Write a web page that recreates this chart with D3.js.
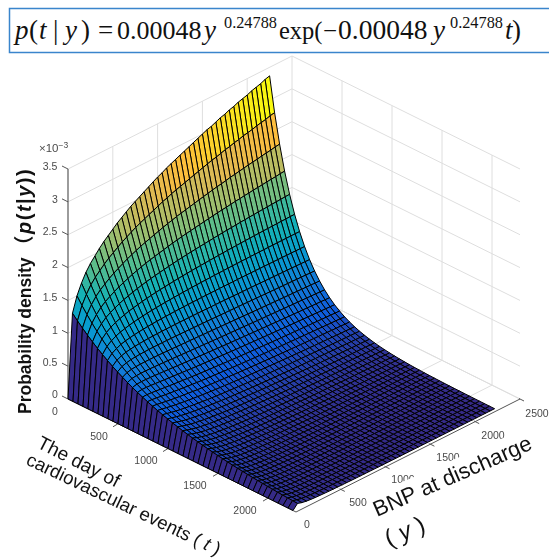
<!DOCTYPE html>
<html><head><meta charset="utf-8">
<script src="https://cdnjs.cloudflare.com/ajax/libs/d3/7.8.5/d3.min.js"></script>
<style>html,body{margin:0;padding:0;background:#fff;overflow:hidden}svg{display:block;filter:blur(.5px)}</style>
</head><body><svg id="c" width="549" height="560"></svg>
<script>
// Grid of the plotted surface
const tValues=[0,50,100,150,200,250,300,350,400,450,500,550,600,650,700,750,800,850,900,950,1000,1050,1100,1150,1200,1250,1300,1350,1400,1450,1500,1550,1600,1650,1700,1750,1800,1850,1900,1950,2000,2050,2100,2150,2200,2250];
const yValues=[0,50,100,150,200,250,300,350,400,450,500,550,600,650,700,750,800,850,900,950,1000,1050,1100,1150,1200,1250,1300,1350,1400,1450,1500,1550,1600,1650,1700,1750,1800,1850,1900,1950,2000,2050,2100,2150,2200,2250];
const edgeDensity=[0,1.27,1.50,1.66,1.79,1.89,1.97,2.05,2.12,2.18,2.24,2.30,2.35,2.40,2.45,2.49,2.53,2.57,2.61,2.65,2.69,2.72,2.76,2.79,2.82,2.85,2.88,2.91,2.94,2.97,3.00,3.03,3.05,3.08,3.11,3.13,3.16,3.18,3.21,3.23,3.25,3.28,3.30,3.32,3.35,3.37];
const zTicks=[0,0.5,1,1.5,2,2.5,3,3.5];
const tTicks=[500,1000,1500,2000];
const yTicks=[0,500,1000,1500,2000,2500];
const zLabels=["0","0.5","1","1.5","2","2.5","3","3.5"];
const parula=["#352a87","#0f5cdd","#127dd8","#079ccf","#15b1b4","#59bd8c","#a5be6b","#e1b952","#fdbe3d","#fcce2e","#f9fb0e"];
const parulaAt=[0,7,14,21,28,35,42,49,53,56,63];
const tMax=2280,yMax=2500,zMax=3.5;

// Oblique projection of the 3D axes, built from one scale per axis and screen direction
const tx=d3.scaleLinear().domain([0,tMax]).range([0,228]);
const ty=d3.scaleLinear().domain([0,tMax]).range([0,113]);
const yx=d3.scaleLinear().domain([0,yMax]).range([0,224]);
const yy=d3.scaleLinear().domain([0,yMax]).range([0,-113]);
const zy=d3.scaleLinear().domain([0,zMax]).range([0,-230]);
const P=(t,y,z)=>[68+tx(t)+yx(y),399+ty(t)+yy(y)+zy(z)];
const color=d3.scaleLinear().domain(parulaAt.map(i=>i/63*3.37)).range(parula).interpolate(d3.interpolateRgb);
// Decay along t follows the equation printed at the top of the chart: p = a exp(-a t)
const density=(iy,t)=>{const a=edgeDensity[iy];return a*Math.exp(-a*t/1000);};

const svg=d3.select("#c");
const line=d3.line();
const gridC="#dedede";
const grid=svg.append("g").attr("fill","none").attr("stroke",gridC).attr("stroke-width",1);
const seg=(g,a,b,c,w)=>g.append("path").attr("d",line([a,b])).attr("stroke",c||null).attr("stroke-width",w||null);
zTicks.forEach(z=>{ if(z>0){seg(grid,P(0,0,z),P(0,yMax,z));} seg(grid,P(0,yMax,z),P(tMax,yMax,z)); });
yTicks.forEach(y=>{ if(y>0) seg(grid,P(0,y,0),P(0,y,zMax)); if(y>0) seg(grid,P(0,y,0),P(tMax,y,0)); });
tTicks.forEach(t=>{ seg(grid,P(t,yMax,0),P(t,yMax,zMax)); seg(grid,P(t,0,0),P(t,yMax,0)); });

// Axes
const ax=svg.append("g").attr("fill","none").attr("stroke","#555").attr("stroke-width",1);
seg(ax,P(0,0,0),P(0,0,zMax),"#666",1.3);
seg(ax,P(0,0,0),P(tMax,0,0));
seg(ax,P(tMax,0,0),P(tMax,yMax,0));
zTicks.forEach(z=>{const p=P(0,0,z);seg(ax,p,[p[0]-6,p[1]-3]);});
tTicks.forEach(t=>{const p=P(t,0,0);seg(ax,p,[p[0]-5,p[1]+3]);});
yTicks.slice(1).forEach(y=>{const p=P(tMax,y,0);seg(ax,[p[0]-1,p[1]-0.5],[p[0]+4,p[1]+2]);});

// Surface, painted back to front
const surf=svg.append("g").attr("stroke","#000").attr("stroke-width",1).attr("stroke-linejoin","round");
for(let iy=yValues.length-2;iy>=0;iy--){
  for(let it=0;it<tValues.length-1;it++){
    const t0=tValues[it],t1=tValues[it+1],y0=yValues[iy],y1=yValues[iy+1];
    surf.append("path")
      .attr("d",line([P(t0,y0,density(iy,t0)),P(t1,y0,density(iy,t1)),P(t1,y1,density(iy+1,t1)),P(t0,y1,density(iy+1,t0))])+"Z")
      .attr("fill",color(density(iy,t0)));
  }
}

// Tick labels
const lab=svg.append("g").attr("font-family","'Liberation Sans',Arial,sans-serif").attr("font-size",10.5).attr("fill","#4a4a4a").attr("text-anchor","middle");
const zLabelPos=[[55,394],[50,362],[55,330],[50,297],[55,264],[50,231],[55,199],[50,166]];
zLabels.forEach((s,i)=>lab.append("text").attr("x",zLabelPos[i][0]).attr("y",zLabelPos[i][1]).attr("dy","0.35em").text(s));
lab.append("text").attr("x",55).attr("y",411).attr("dy","0.35em").text("0");
[[99,436],[146,460],[195,485],[245,510]].forEach((p,i)=>lab.append("text").attr("x",p[0]).attr("y",p[1]).attr("dy","0.35em").text(tTicks[i]));
[[307,524],[358,502],[403,479],[448,457],[493,435],[537,413]].forEach((p,i)=>lab.append("text").attr("x",p[0]).attr("y",p[1]).attr("dy","0.35em").text(yTicks[i]));
const exp=lab.append("text").attr("x",39).attr("y",152).attr("text-anchor","start").attr("font-size",11.5);
exp.append("tspan").text("×10");
exp.append("tspan").attr("dy",-4).attr("font-size",8.5).text("−3");

// Axis titles
const tg=svg.append("g").attr("font-family","'Liberation Sans',Arial,sans-serif").attr("fill","#111");
tg.append("rect").attr("x",-3).attr("y",-22).attr("width",180).attr("height",30).attr("fill","#fff").attr("transform","translate(377,517) rotate(-23.6)");
tg.append("text").attr("transform","translate(377,517) rotate(-23.6)").attr("font-size",22).text("BNP at discharge");
const y2=tg.append("text").attr("transform","translate(389,547) rotate(-23.6)").attr("font-size",24);
y2.append("tspan").text("( ");y2.append("tspan").attr("font-style","italic").text("y");y2.append("tspan").text(" )");
tg.append("text").attr("transform","translate(36,447) rotate(27)").attr("font-size",19).text("The day of");
const t2=tg.append("text").attr("transform","translate(25,464) rotate(25.5)").attr("font-size",18.6);
t2.append("tspan").text("cardiovascular events ( ");t2.append("tspan").attr("font-style","italic").text("t");t2.append("tspan").text(" )");
const zt=tg.append("text").attr("transform","translate(31,414) rotate(-90)").attr("font-size",17.5).attr("font-weight","bold");
zt.append("tspan").text("Probability density");
const zf=zt.append("tspan").attr("dx",2).attr("font-size",20).attr("letter-spacing",1.5);
zf.append("tspan").attr("font-family","'Noto Sans CJK SC'").text("（");
zf.append("tspan").attr("font-style","italic").text("p");zf.append("tspan").text("(");zf.append("tspan").attr("font-style","italic").text("t");zf.append("tspan").text("|");zf.append("tspan").attr("font-style","italic").text("y");zf.append("tspan").text("))");

// Equation box
svg.append("rect").attr("x",9.5).attr("y",8.5).attr("width",545).attr("height",44).attr("fill","#fff").attr("stroke","#3a85cc").attr("stroke-width",1.5);
const eq=svg.append("g").attr("font-family","'Liberation Serif','Times New Roman',serif").attr("font-size",27).attr("fill","#111");
const put=(x,y,s,o)=>{const e=eq.append("text").attr("x",x).attr("y",y).text(s);if(o&&o.i)e.attr("font-style","italic");if(o&&o.s)e.attr("font-size",o.s);};
put(15,38.5,"p",{i:1});put(29,38.5,"(");put(39,38.5,"t",{i:1});put(53,38.5,"|");put(65,38.5,"y",{i:1});put(81,38.5,")");put(98,38.5,"=");put(117,38.5,"0.00048",{s:26});
put(204,38.5,"y",{i:1});put(224,27.5,"0.24788",{s:16.3});put(279,38.5,"exp(",{s:24.5});put(323,38.5,"−",{s:25});put(338,38.5,"0.00048",{s:27.5});put(433,38.5,"y",{i:1});put(450,27.5,"0.24788",{s:16.3});put(505,38.5,"t",{i:1});put(512,38.5,")");
</script></body></html>
